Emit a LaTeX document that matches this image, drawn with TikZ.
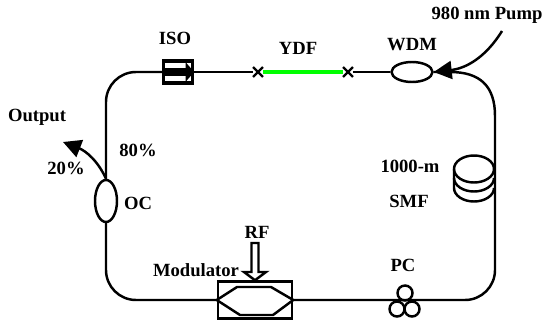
\documentclass[tikz,border=0pt]{standalone}
\usepackage{fontspec}
\setmainfont{Liberation Serif}
\usetikzlibrary{arrows.meta}
\usetikzlibrary{shapes.geometric}
\usetikzlibrary{shapes.misc}
\tikzset{
	fiber/.style={line width=1.4pt},
	lab/.style={font=\fontsize{10.6}{12}\selectfont\bfseries, inner sep=0pt},
	coupler/.style={draw, ellipse, line width=1.4pt, inner sep=0pt},
	paddle/.style={draw, circle, line width=1.4pt, inner sep=0pt, minimum size=3mm},
	splice/.style={draw, cross out, line width=1.4pt, inner sep=0pt, minimum size=1.5mm},
	bigtip/.style={-{Triangle[length=3.6mm,width=3.6mm]}}
}
\begin{document}
\begin{tikzpicture}
	\useasboundingbox (0,0) rectangle (10.86,6.52);

	% Corners of the ring
	\coordinate (TL) at (2.12,5.08);
	\coordinate (BL) at (2.12,0.52);
	\coordinate (BR) at (9.90,0.52);
	\coordinate (TR) at (9.90,4.20);

	% Components
	\node[draw, line width=1.9pt, minimum width=5.8mm, minimum height=4.4mm, inner sep=0pt] (ISO) at (3.56,5.08) {};
	\node[splice] (S1) at (5.16,5.08) {};
	\node[splice] (S2) at (6.96,5.08) {};
	\node[coupler, minimum width=8.2mm, minimum height=4mm] (WDM) at (8.24,5.08) {};
	\node[coupler, minimum width=4.4mm, minimum height=8.4mm] (OC) at (2.12,2.50) {};
	\node[draw, line width=1.4pt, minimum width=14.8mm, minimum height=7.4mm, inner sep=0pt] (Mod) at (5.10,0.52) {};
	\node[paddle] (PC1) at (8.10,0.66) {};
	\node[paddle] (PC2) at (7.94,0.34) {};
	\node[paddle] (PC3) at (8.24,0.34) {};

	% Fiber
	\draw[fiber, rounded corners=6mm] (OC.north) -- (TL) -- (ISO.west);
	\draw[fiber] (ISO.east) -- (S1);
	\draw[line width=1.9pt, green] (S1) -- (S2);
	\draw[fiber] (S2) -- (WDM.west);
	\draw[fiber] (WDM.east) -- (9.00,5.08) .. controls (9.60,5.08) and (9.90,4.80) .. (TR);
	\draw[fiber, rounded corners=6mm] (TR) -- (BR) -- (Mod.east);
	\draw[fiber, rounded corners=6mm] (Mod.west) -- (BL) -- (OC.south);

	% Isolator arrow
	\draw[line width=4.5pt, -{Triangle[length=1.7mm,width=3.8mm]}] (ISO.west) -- (ISO.east);

	% Phase arms of the modulator
	\draw[line width=1.4pt, line join=round] (Mod.west) -- (4.74,0.78) -- (5.42,0.78) -- (Mod.east) -- (5.46,0.22) -- (4.80,0.22) -- cycle;

	% RF arrow
	\draw[line width=1.4pt] (5.03,1.66) -- (5.17,1.66) -- (5.17,1.08) -- (5.32,1.08) -- (Mod.north) -- (4.88,1.08) -- (5.03,1.08) -- cycle;

	% Fiber coil
	\draw[line width=1.4pt, fill=white] (9.48,3.14) ellipse (0.40 and 0.27);
	\draw[line width=1.4pt] (9.08,3.14) -- (9.08,2.76) arc (180:360:0.40 and 0.27);
	\draw[line width=1.4pt] (9.08,2.96) arc (180:360:0.40 and 0.27);

	% Pump and output
	\coordinate (PumpIn) at (10.04,5.90);
	\coordinate (OutTip) at (1.26,3.68);
	\draw[fiber, bigtip] (PumpIn) .. controls (9.70,5.35) and (9.30,5.15) .. (WDM.east);
	\draw[fiber, bigtip] (OC.north) .. controls (1.96,3.30) and (1.72,3.50) .. (OutTip);

	% Labels
	\node[lab] (l1) at (3.50,5.76) {ISO};
	\node[lab] (l2) at (5.96,5.56) {YDF};
	\node[lab] (l3) at (8.24,5.62) {WDM};
	\node[lab] (l4) at (9.74,6.22) {980 nm Pump};
	\node[lab] (l5) at (0.74,4.18) {Output};
	\node[lab] (l6) at (1.32,3.16) {20\%};
	\node[lab] (l7) at (2.76,3.52) {80\%};
	\node[lab] (l8) at (2.76,2.46) {OC};
	\node[lab] (l9) at (8.20,3.20) {1000-m};
	\node[lab] (l10) at (8.18,2.50) {SMF};
	\node[lab] (l11) at (8.06,1.22) {PC};
	\node[lab] (l12) at (5.14,1.88) {RF};
	\node[lab] (l13) at (3.92,1.12) {Modulator};
\end{tikzpicture}
\end{document}
